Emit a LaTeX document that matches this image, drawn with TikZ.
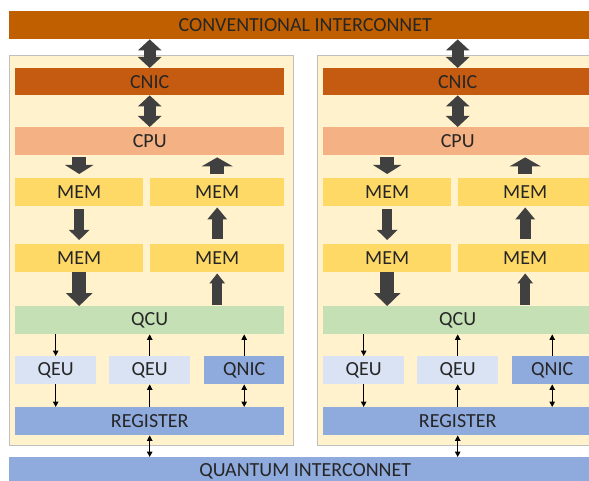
\documentclass[tikz,border=0pt]{standalone}
\usepackage{fontspec}
\setmainfont{Carlito}
\usetikzlibrary{arrows.meta}
\definecolor{busbrown}{HTML}{C05F00}
\definecolor{cnicbrown}{HTML}{C55A11}
\definecolor{cpuorange}{HTML}{F4B183}
\definecolor{memyellow}{HTML}{FFD966}
\definecolor{qcugreen}{HTML}{C5E0B4}
\definecolor{qeublue}{HTML}{DAE3F3}
\definecolor{qbusblue}{HTML}{8FAADC}
\definecolor{panelfill}{HTML}{FFF2CC}
\definecolor{panelline}{HTML}{BFBFBF}
\definecolor{arrowgray}{HTML}{404040}
\begin{document}
\begin{tikzpicture}[x=1pt,y=-1pt,
  box/.style={minimum height=28pt, inner sep=0pt, anchor=north west,
    font=\fontsize{20}{21}\selectfont, text=black!85},
  fat/.style n args={3}{arrowgray, line width=#1pt, -{Triangle[width=#2pt,length=#3pt]}},
  fatboth/.style n args={3}{arrowgray, line width=#1pt,
    {Triangle[width=#2pt,length=#3pt]}-{Triangle[width=#2pt,length=#3pt]}},
  wire/.style={line width=1.1pt, -{Triangle[width=5.5pt,length=5.5pt]}},
  wireboth/.style={line width=1.1pt, {Triangle[width=5.5pt,length=5.5pt]}-{Triangle[width=5.5pt,length=5.5pt]}}]
\useasboundingbox (0,0) rectangle (589,481);
\clip (0,0) rectangle (589,481);

% the two buses
\node[box, fill=busbrown, minimum width=592pt] (conv) at (9,11) {CONVENTIONAL INTERCONNET};
\node[box, fill=qbusblue, minimum width=592pt, minimum height=29pt] (quant) at (9,457) {QUANTUM INTERCONNET};

\foreach \n/\dx in {1/0,2/308}{
\begin{scope}[xshift=\dx]
  % node panel
  \draw[fill=panelfill, draw=panelline] (9,55) rectangle (293,445);

  % classical part
  \node[box, fill=cnicbrown, minimum width=269pt, minimum height=27pt] (cnic\n) at (15,68) {CNIC};
  \node[box, fill=cpuorange, minimum width=269pt] (cpu\n) at (15,127) {CPU};
  \node[box, fill=memyellow, minimum width=128pt] (memTL\n) at (15,178) {MEM};
  \node[box, fill=memyellow, minimum width=134pt] (memTR\n) at (150,178) {MEM};
  \node[box, fill=memyellow, minimum width=128pt] (memBL\n) at (15,244) {MEM};
  \node[box, fill=memyellow, minimum width=134pt] (memBR\n) at (150,244) {MEM};

  % quantum part
  \node[box, fill=qcugreen, minimum width=269pt] (qcu\n) at (15,306) {QCU};
  \node[box, fill=qeublue, minimum width=81pt] (qeuL\n) at (15,356) {QEU};
  \node[box, fill=qeublue, minimum width=81pt] (qeuR\n) at (109,356) {QEU};
  \node[box, fill=qbusblue, minimum width=80pt] (qnic\n) at (204,356) {QNIC};
  \node[box, fill=qbusblue, minimum width=269pt] (reg\n) at (15,407) {REGISTER};

  % block arrows
  \draw[fatboth={12}{23}{11}] (cnic\n.north |- conv.south) -- (cnic\n.north);
  \draw[fatboth={12}{23}{11}] (cnic\n) -- (cpu\n);
  \draw[fat={14}{28}{9}, shorten <=2pt, shorten >=4pt] (cpu\n.south -| memTL\n) -- (memTL\n);
  \draw[fat={14}{31}{9}, shorten <=4pt, shorten >=2pt] (memTR\n) -- (memTR\n |- cpu\n.south);
  \draw[fat={10}{20}{10}, shorten <=3pt, shorten >=4pt] (memTL\n) -- (memBL\n);
  \draw[fat={11}{19}{12}, shorten <=5pt, shorten >=1pt] (memBR\n) -- (memTR\n);
  \draw[fat={14}{26}{13}] (memBL\n) -- (memBL\n |- qcu\n.north);
  \draw[fat={10}{15}{10}, shorten <=1pt, shorten >=1pt] (qcu\n.north -| memBR\n) -- (memBR\n);

  % thin arrows
  \draw[wire] (qcu\n.south -| qeuL\n) -- (qeuL\n);
  \draw[wire] (qeuL\n) -- (qeuL\n |- reg\n.north);
  \draw[wire] (qeuR\n |- reg\n.north) -- (qeuR\n);
  \draw[wire] (qeuR\n) -- (qeuR\n |- qcu\n.south);
  \draw[wire] (qnic\n) -- (qnic\n |- qcu\n.south);
  \draw[wireboth] (qnic\n) -- (qnic\n |- reg\n.north);
  \draw[wireboth] (reg\n) -- (reg\n |- quant.north);
\end{scope}
}
\end{tikzpicture}
\end{document}
